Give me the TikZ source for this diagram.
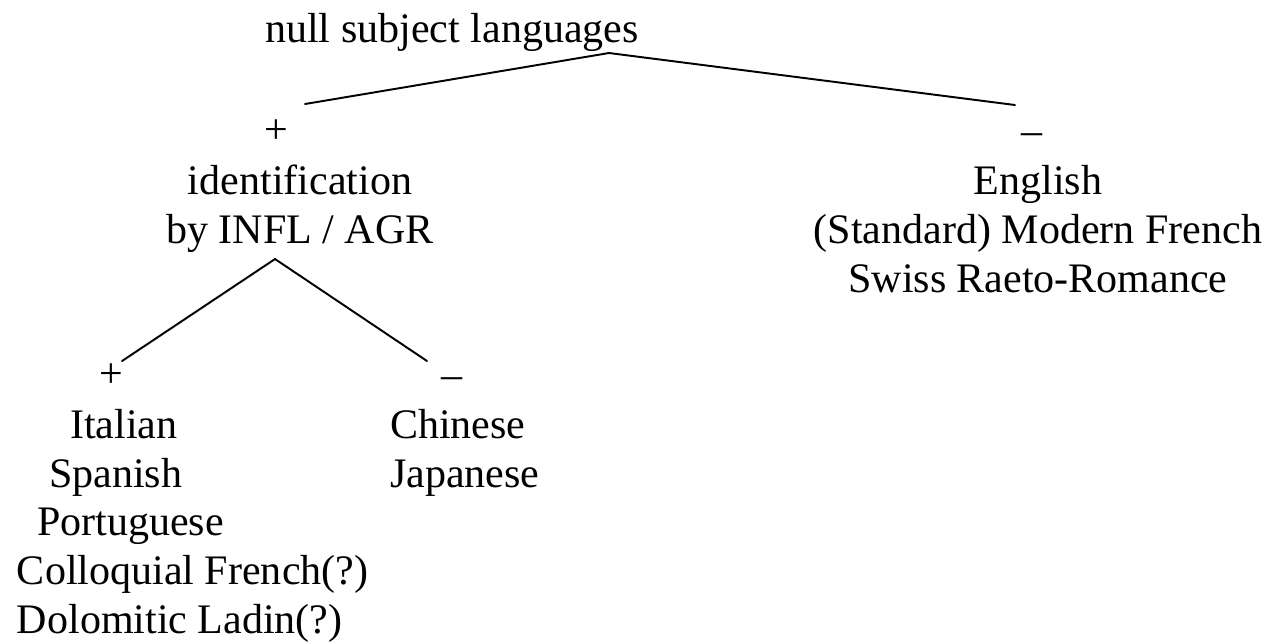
\documentclass[tikz,border=0pt]{standalone}
\usepackage{fontspec}
\setmainfont{Liberation Serif}
\usetikzlibrary{positioning}

\begin{document}
\begin{tikzpicture}[
    x = 0.01cm, y = -0.01cm,
    every node/.style = {inner sep=0pt, outer sep=0pt, font=\fontsize{11.95}{13.8}\selectfont},
    label/.style = {anchor=base, align=center},
    listbox/.style = {anchor=base west, align=left},
    sign/.style = {anchor=base},
    branch/.style = {line width=0.55pt, line cap=round}
]
    \useasboundingbox (0,0) rectangle (1269,641);

    % Nodes (multi-line nodes sit on their last baseline)
    \node [label] (root) at (452,42) {null subject languages};
    \node [sign] (plusA) at (276,143) {+};
    \node [sign] (minusA) at (1032,144) {--};
    \node [label] (ident) at (300,243) {identification\\by INFL / AGR};
    \node [label] (english) at (1038,292) {English\\(Standard) Modern French\\Swiss Raeto-Romance};
    \node [sign] (plusB) at (111,387) {+};
    \node [sign] (minusB) at (452,388) {--};
    \node [listbox] (withagr) at (17,633) {\hspace*{0.53cm}Italian\\\hspace*{0.32cm}Spanish\\\hspace*{0.20cm}Portuguese\\Colloquial French(?)\\Dolomitic Ladin(?)};
    \node [listbox] (noagr) at (390,487) {Chinese\\Japanese};

    % Branch points
    \coordinate (rootfork) at (609,53);
    \coordinate (plusAtop) at (305,104);
    \coordinate (minusAtop) at (1015,105);
    \coordinate (identfork) at (275,259);
    \coordinate (plusBtop) at (122,361);
    \coordinate (minusBtop) at (427,361);

    % Edges
    \draw [branch] (rootfork) -- (plusAtop);
    \draw [branch] (rootfork) -- (minusAtop);
    \draw [branch] (identfork) -- (plusBtop);
    \draw [branch] (identfork) -- (minusBtop);

\end{tikzpicture}
\end{document}
